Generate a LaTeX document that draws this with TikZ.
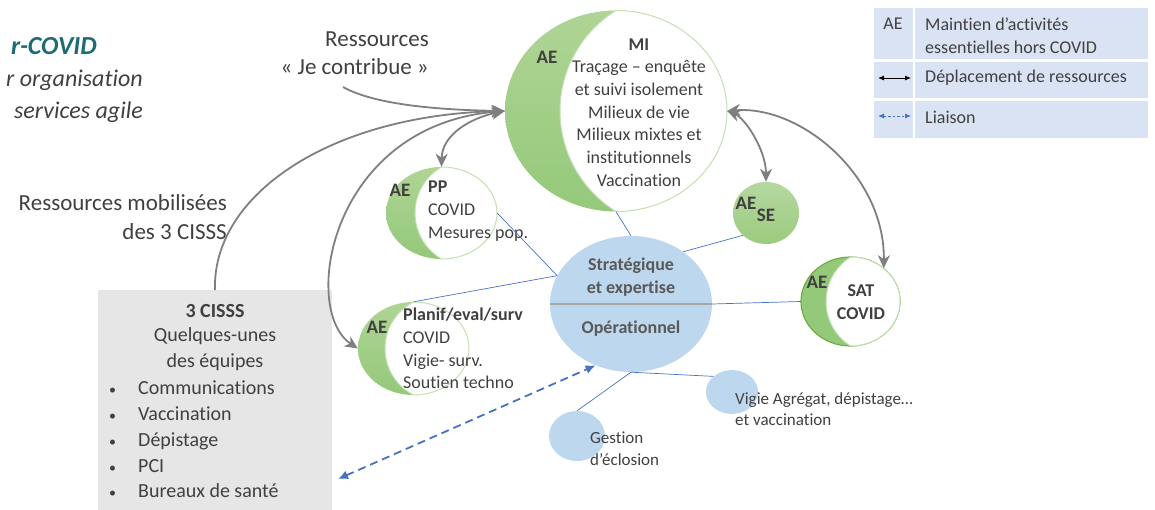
\documentclass[tikz,border=0pt]{standalone}
\usepackage{fontspec}
\setmainfont{Carlito}[Ligatures={NoCommon}]
\usetikzlibrary{arrows.meta}
\usetikzlibrary{shapes.geometric}
\usetikzlibrary{positioning}

\definecolor{textgray}{HTML}{404040}
\definecolor{opsgray}{HTML}{595959}
\definecolor{covidteal}{HTML}{1F6B73}
\definecolor{arrowgray}{HTML}{7F7F7F}
\definecolor{liaisonblue}{HTML}{4472C4}
\definecolor{opsblue}{HTML}{BDD7EE}
\definecolor{boxgray}{HTML}{E7E6E6}
\definecolor{legendblue}{HTML}{DAE3F3}
\definecolor{aelight}{HTML}{AFD495}
\definecolor{aedark}{HTML}{94C97A}
\definecolor{aerim}{HTML}{70AD47}
\definecolor{moonrim}{HTML}{C5E0B4}
\definecolor{selight}{HTML}{B5D8A0}
\definecolor{sedark}{HTML}{9BCB7F}

\newcommand{\puce}{\makebox[29pt][l]{\fontsize{14}{14}\selectfont •}}

% lune : [style croissant]{nom}{cx}{cy}{rx}{ry}{x du bord interieur}
\newcommand{\lune}[7][]{%
  \pgfmathsetmacro{\lunesag}{#3-#7}%
  \pgfmathsetmacro{\lunerad}{(#6*#6+\lunesag*\lunesag)/(2*\lunesag)}%
  \pgfmathsetmacro{\luneang}{atan2(#6,\lunesag-\lunerad)}%
  \node[ellipse,minimum width={2*#5*1pt},minimum height={2*#6*1pt}] (#2) at (#3,#4) {};
  \path[crescent,#1] (#3,#4) ellipse[x radius=#5,y radius=#6];
  \path[moonface] (#3,#4-#6) arc[start angle=-90,end angle=90,x radius=#5,y radius=#6]
    arc[start angle=\luneang,end angle=360-\luneang,radius=\lunerad] -- cycle;
}

\begin{document}
\begin{tikzpicture}[
  x=1pt, y=-1pt,
  every node/.style = {inner sep=0pt, text=textgray},
  body/.style = {font=\fontsize{18}{22.7}\selectfont},
  bodybold/.style = {font=\bfseries\fontsize{18}{22.7}\selectfont},
  small/.style = {font=\fontsize{17}{21.5}\selectfont},
  large/.style = {font=\fontsize{23}{28.5}\selectfont},
  boxtext/.style = {font=\fontsize{20}{25.7}\selectfont},
  aelabel/.style = {font=\bfseries\fontsize{19}{22}\selectfont},
  crescent/.style = {top color=aelight, bottom color=aedark},
  moonface/.style = {fill=white, draw=moonrim, line width=1pt},
  bubble/.style = {ellipse, fill=opsblue},
  link/.style = {draw=liaisonblue, line width=0.7pt},
  movetip/.tip = {Stealth[length=13pt,width=12pt,inset=4pt]},
  moveone/.style = {draw=arrowgray, line width=1.8pt, -movetip},
  movetwo/.style = {draw=arrowgray, line width=1.8pt, movetip-movetip},
  liaison/.style = {draw=liaisonblue, line width=1.8pt, dash pattern=on 8pt off 5pt,
    {Latex[length=10pt,width=9pt]}-{Latex[length=10pt,width=9pt]}},
  legdepl/.style = {draw=black, line width=0.8pt, {Latex[length=6pt,width=5pt]}-{Latex[length=6pt,width=5pt]}},
  legliai/.style = {draw=liaisonblue, line width=0.8pt, dash pattern=on 2.5pt off 2pt,
    {Latex[length=6pt,width=5pt]}-{Latex[length=6pt,width=5pt]}}
  ]
  \useasboundingbox (0,0) rectangle (1155,510);

  % titre
  \node[anchor=east, font=\bfseries\itshape\fontsize{26}{30}\selectfont, text=covidteal] (titre) at (97,46) {r-COVID};
  \node[anchor=east, align=right, font=\itshape\fontsize{24}{32}\selectfont] (soustitre) at (143,96) {r organisation\\services agile};
  \node[large, anchor=east, align=right] (ress) at (429,53) {Ressources\\« Je contribue »};
  \node[large, anchor=east, align=right] (mobil) at (227,217) {Ressources mobilisées\\des 3 CISSS};

  % bulles
  \node[bubble, minimum width=162pt, minimum height=136pt] (ops) at (631,304) {};
  \node[bubble, minimum width=52pt, minimum height=44pt] (vig) at (732,392) {};
  \node[bubble, minimum width=56pt, minimum height=50pt] (gest) at (577,436) {};
  \draw[color=black!35, line width=1.8pt] (ops.west) -- (ops.east);

  % lunes
  \lune{mi}{616}{111}{111}{100.5}{560}
  \lune{pp}{441.5}{213}{55.5}{46}{415}
  \lune{planif}{413.5}{348.5}{55.5}{46.5}{385}
  \lune[top color=aedark, bottom color=aedark, draw=aerim, line width=1.2pt]{sat}{850.5}{301.5}{49.5}{44.5}{826}
  \node[ellipse, top color=selight, bottom color=sedark, minimum width=66pt, minimum height=62pt] (se) at (766,213) {};

  % boite 3 CISSS
  \node[fill=boxgray, minimum width=234pt, minimum height=240pt, anchor=north] (cisss) at (215,290) {};
  \node[font=\bfseries\fontsize{20}{25.7}\selectfont] (cissstitre) at (215,311) {3 CISSS};
  \node[boxtext, align=center] (cissssous) at (215,349.5) {Quelques-unes\\des équipes};
  \node[boxtext, align=left, anchor=west] (cissliste) at (109,439.5)
    {\puce Communications\\\puce Vaccination\\\puce Dépistage\\\puce PCI\\\puce Bureaux de santé};

  % legende
  \fill[legendblue] (874,8) rectangle (1148,59);
  \fill[legendblue] (874,62) rectangle (1148,98);
  \fill[legendblue] (874,101) rectangle (1148,138);
  \draw[white, line width=2pt] (914,8) -- (914,138);
  \node[body] (legae) at (893,24) {AE};
  \node[body, anchor=west, align=left] (legaetxt) at (925,35.5) {Maintien d’activités\\essentielles hors COVID};
  \node[body, anchor=west] (legdepltxt) at (925,78) {Déplacement de ressources};
  \node[body, anchor=west] (legliaitxt) at (925,117) {Liaison};
  \coordinate (legdepla) at (878,78);
  \coordinate (legdeplb) at (911,78);
  \coordinate (legliaia) at (878,116);
  \coordinate (legliaib) at (911,116);
  \draw[legdepl] (legdepla) -- (legdeplb);
  \draw[legliai] (legliaia) -- (legliaib);

  % textes
  \node[aelabel] (miae) at (547,57) {AE};
  \node[body, align=center] (mitxt) at (639,112.5) {\textbf{MI}\\Traçage – enquête\\et suivi isolement\\Milieux de vie\\Milieux mixtes et\\institutionnels\\Vaccination};
  \node[aelabel] (ppae) at (400,190) {AE};
  \node[body, align=left, anchor=west] (pptxt) at (428,211) {\textbf{PP}\\COVID\\Mesures pop.};
  \node[aelabel] (planifae) at (377,327) {AE};
  \node[body, align=left, anchor=west] (planiftxt) at (403,348.5) {\textbf{Planif/eval/surv}\\COVID\\Vigie- surv.\\Soutien techno};
  \node[aelabel] (seae) at (746,203) {AE};
  \node[aelabel] (sesub) at (766,215) {SE};
  \node[aelabel] (satae) at (817,282) {AE};
  \node[bodybold, align=center] (sattxt) at (861,302) {SAT\\COVID};
  \node[bodybold, text=opsgray, align=center] (strat) at (631,277) {Stratégique\\et expertise};
  \node[bodybold, text=opsgray] (oper) at (631,329) {Opérationnel};
  \node[small, anchor=west, align=left] (gesttxt) at (590,448.5) {Gestion\\d’éclosion};
  \node[small, anchor=west, align=left] (vigtxt) at (735,409) {Vigie Agrégat, dépistage…\\et vaccination};

  % liens
  \draw[link] (ops.north) -- (mi.south);
  \draw[link] (ops.45) -- (se.224);
  \draw[link] (ops.east) -- (sat.west);
  \draw[link] (pp.east) -- (ops.159);
  \draw[link] (planif.north) -- (ops.159);
  \draw[link] (ops.south) -- (vig.140);
  \draw[link] (ops.south) -- (gest.north);

  % deplacements de ressources
  \coordinate (ressdep) at (343,87);
  \draw[moveone] (ressdep) .. controls (375,105) and (440,110) .. (mi.west);
  \draw[moveone] (cisss.north) .. controls (212,195) and (330,115) .. (mi.west);
  \draw[movetwo] (mi.west) .. controls (330,125) and (300,310) .. (planif.west);
  \draw[movetwo] (mi.west) .. controls (470,118) and (442,135) .. (pp.north);
  \draw[movetwo] (mi.east) .. controls (745,118) and (766,150) .. (se.north);
  \draw[movetwo] (mi.east) .. controls (800,105) and (885,175) .. (sat.45);

  % liaison
  \coordinate (liaisondep) at (338,479);
  \draw[liaison] (liaisondep) -- (ops.240);
\end{tikzpicture}
\end{document}
